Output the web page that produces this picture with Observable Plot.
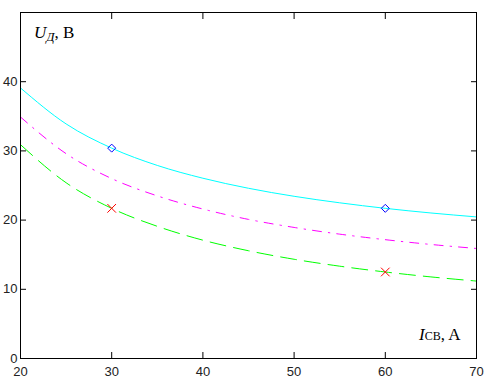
<!DOCTYPE html>
<html><head><meta charset="utf-8">
<script src="https://cdn.jsdelivr.net/npm/d3@7"></script>
<script src="https://cdn.jsdelivr.net/npm/@observablehq/plot@0.6"></script>
<style>body{margin:0;background:#fff} #chart{width:500px;height:382px}</style>
</head><body><div id="chart"></div>
<script>
// Current I_CB, A
const current = [20, 25, 30, 35, 40, 45, 50, 55, 60, 65, 70];
// Voltage U_Д, V for three curves
const uCyan    = [39.1, 33.9, 30.4, 27.9, 26.05, 24.6, 23.44, 22.5, 21.7, 21.03, 20.46];
const uMagenta = [34.9, 29.6, 26.0, 23.5, 21.6, 20.1, 18.94, 17.97, 17.17, 16.48, 15.9];
const uGreen   = [30.9, 25.4, 21.7, 19.1, 17.1, 15.57, 14.34, 13.34, 12.5, 11.79, 11.19];
// Marked points
const markCurrent = [30, 60];
const markCyan = [30.4, 21.7];
const markGreen = [21.7, 12.5];
// Ticks
const xTicks = [20, 30, 40, 50, 60, 70];
const yTicks = [0, 10, 20, 30, 40];

const rows = (xs, ys) => xs.map((x, i) => ({x, y: ys[i]}));
const blank = () => "";

const plot = Plot.plot({
  width: 500, height: 382,
  marginLeft: 20, marginRight: 24, marginTop: 12, marginBottom: 24,
  x: {domain: [20, 70], label: null},
  y: {domain: [0, 50], label: null},
  style: {fontFamily: "'Liberation Sans', Arial, sans-serif", fontSize: "13px", color: "#000", background: "#fff"},
  marks: [
    Plot.line(rows(current, uCyan), {x: "x", y: "y", stroke: "#00ffff", strokeWidth: 1, curve: "monotone-x"}),
    Plot.line(rows(current, uMagenta), {x: "x", y: "y", stroke: "#ff00ff", strokeWidth: 1, curve: "monotone-x", strokeDasharray: "9,7,1.5,7"}),
    Plot.line(rows(current, uGreen), {x: "x", y: "y", stroke: "#00ff00", strokeWidth: 1, curve: "monotone-x", strokeDasharray: "16,8"}),
    Plot.dot(rows(markCurrent, markCyan), {x: "x", y: "y", symbol: "diamond2", r: 3.6, stroke: "#0000ff", strokeWidth: 1}),
    Plot.dot(rows(markCurrent, markGreen), {x: "x", y: "y", symbol: "times", r: 4, stroke: "#ff0000", strokeWidth: 1}),
    // inward ticks
    Plot.axisX(xTicks, {anchor: "bottom", tickSize: 6, dy: -6, tickFormat: blank, label: null}),
    Plot.axisX(xTicks, {anchor: "top", tickSize: 6, dy: 6, tickFormat: blank, label: null}),
    Plot.axisY(yTicks, {anchor: "left", tickSize: 6, dx: 6, tickFormat: blank, label: null}),
    Plot.axisY(yTicks, {anchor: "right", tickSize: 6, dx: -6, tickFormat: blank, label: null}),
    // tick labels
    Plot.axisX(xTicks, {anchor: "bottom", tickSize: 0, tickPadding: 8, fill: "#222", label: null}),
    Plot.axisY(yTicks, {anchor: "left", tickSize: 0, tickPadding: 3, fill: "#222", label: null}),
    Plot.frame({stroke: "#000"})
  ]
});
document.getElementById("chart").append(plot);

const svg = d3.select(plot);
const serif = "'Liberation Serif', 'Times New Roman', serif";
const t1 = svg.append("text").attr("x", 34).attr("y", 38).attr("text-anchor", "start")
  .attr("font-family", serif).attr("font-size", 17).attr("fill", "#000");
t1.append("tspan").attr("font-style", "italic").text("U");
t1.append("tspan").attr("font-style", "italic").attr("font-size", 13).attr("dy", 3).text("Д");
t1.append("tspan").attr("dy", -3).text(", B");

const t2 = svg.append("text").attr("x", 419).attr("y", 340).attr("text-anchor", "start")
  .attr("font-family", serif).attr("font-size", 17).attr("fill", "#000");
t2.append("tspan").attr("font-style", "italic").text("I");
t2.append("tspan").attr("font-size", 12).text("CB");
t2.append("tspan").text(", A");
</script>
</body></html>
